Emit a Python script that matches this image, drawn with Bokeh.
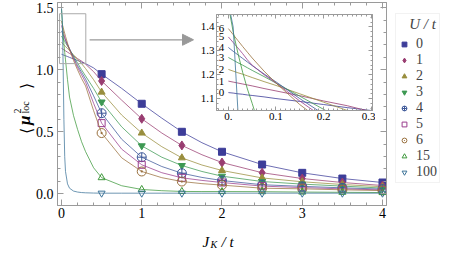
import math
from bokeh.plotting import figure
from bokeh.models import (Range1d, LinearAxis, SingleIntervalTicker, Legend, LegendItem,
                          Label, Arrow, NormalHead, CustomJSTickFormatter,
                          NumeralTickFormatter)
from bokeh.core.properties import value
from bokeh.embed import file_html
from bokeh.resources import INLINE

# ---------------- data ----------------
U_labels = ["0", "1", "2", "3", "4", "5", "6", "15", "100"]
J_line = [0, 0.01, 0.02, 0.03, 0.04, 0.05, 0.075, 0.1, 0.15, 0.2, 0.25, 0.3, 0.4, 0.5,
          0.75, 1, 1.25, 1.5, 1.75, 2, 2.5, 3, 3.5, 4]
J_marks = [0.5, 1, 1.5, 2, 2.5, 3, 3.5, 4]

mu_U0 = [1.125, 1.123, 1.120, 1.118, 1.115, 1.113, 1.107, 1.100, 1.088, 1.075, 1.062, 1.050,
         1.015, 0.965, 0.850, 0.726, 0.610, 0.500, 0.412, 0.339, 0.236, 0.169, 0.123, 0.091]
mu_U1 = [1.173, 1.169, 1.165, 1.161, 1.157, 1.153, 1.142, 1.132, 1.112, 1.090, 1.070, 1.045,
         0.985, 0.910, 0.755, 0.605, 0.490, 0.390, 0.315, 0.252, 0.170, 0.123, 0.091, 0.067]
mu_U2 = [1.222, 1.215, 1.208, 1.202, 1.195, 1.188, 1.171, 1.155, 1.120, 1.085, 1.050, 1.010,
         0.920, 0.820, 0.635, 0.490, 0.380, 0.290, 0.232, 0.188, 0.128, 0.097, 0.075, 0.057]
mu_U3 = [1.272, 1.261, 1.250, 1.240, 1.229, 1.218, 1.192, 1.165, 1.110, 1.055, 1.000, 0.950,
         0.850, 0.740, 0.540, 0.387, 0.295, 0.228, 0.180, 0.142, 0.099, 0.078, 0.062, 0.046]
mu_U4 = [1.314, 1.298, 1.283, 1.268, 1.253, 1.238, 1.203, 1.170, 1.100, 1.035, 0.980, 0.925,
         0.790, 0.650, 0.440, 0.295, 0.220, 0.166, 0.132, 0.107, 0.073, 0.060, 0.048, 0.038]
mu_U5 = [1.358, 1.335, 1.312, 1.288, 1.262, 1.240, 1.200, 1.165, 1.090, 1.020, 0.960, 0.900,
         0.730, 0.570, 0.360, 0.234, 0.170, 0.129, 0.108, 0.091, 0.062, 0.050, 0.040, 0.031]
mu_U6 = [1.393, 1.368, 1.343, 1.318, 1.294, 1.270, 1.215, 1.165, 1.075, 1.000, 0.930, 0.870,
         0.670, 0.490, 0.290, 0.180, 0.130, 0.099, 0.082, 0.070, 0.045, 0.040, 0.032, 0.026]
mu_U15 = [1.490, 1.380, 1.290, 1.210, 1.140, 1.080, 0.920, 0.780, 0.630, 0.520, 0.420, 0.340,
          0.210, 0.130, 0.065, 0.035, 0.025, 0.019, 0.018, 0.018, 0.017, 0.014, 0.012, 0.010]
mu_U100 = [1.500, 1.400, 1.050, 0.600, 0.300, 0.180, 0.080, 0.045, 0.022, 0.014, 0.010, 0.008,
           0.006, 0.005, 0.005, 0.005, 0.005, 0.005, 0.005, 0.005, 0.005, 0.005, 0.005, 0.005]

series = [mu_U0, mu_U1, mu_U2, mu_U3, mu_U4, mu_U5, mu_U6, mu_U15, mu_U100]

# ---------------- styles ----------------
colors = ["#3d3d99", "#993d71", "#998e3d", "#3d9953", "#3d5899", "#993d8d", "#99703d",
          "#3f993d", "#3d7499"]
markers = ["square", "diamond", "triangle", "inverted_triangle", "circle_cross", "square",
           "circle_dot", "triangle", "inverted_triangle"]
filled = [True, True, True, True, False, False, False, False, False]
msize = [7, 9, 7, 7, 9, 7, 9, 7, 7]

FONT = "Liberation Serif"
FRAME = "#9a9a9a"

ix0, ix1 = -0.025, 0.303
iy0, iy1 = 1.05, 1.452

# ---------------- main figure ----------------
p = figure(width=463, height=254, x_range=Range1d(-0.0498, 4.05),
           y_range=Range1d(-0.0944, 1.5427),
           output_backend="svg", toolbar_location=None,
           min_border_left=57, min_border_right=77, min_border_top=2, min_border_bottom=49)
p.grid.visible = False
p.outline_line_color = FRAME
p.background_fill_color = "white"
p.border_fill_color = "white"

xt = SingleIntervalTicker(interval=1, num_minor_ticks=5)
yt = SingleIntervalTicker(interval=0.5, num_minor_ticks=5)

def style_axis(ax, show_labels, size="14px", standoff=4, maj=6, mnr=3):
    ax.axis_line_color = FRAME
    ax.major_tick_line_color = FRAME
    ax.minor_tick_line_color = FRAME
    ax.major_tick_in = maj
    ax.major_tick_out = 0
    ax.minor_tick_in = mnr
    ax.minor_tick_out = 0
    ax.major_label_text_font = FONT
    ax.major_label_text_font_size = size
    ax.major_label_text_color = "black"
    ax.major_label_standoff = standoff
    if not show_labels:
        ax.formatter = CustomJSTickFormatter(code="return ''")
        ax.major_label_standoff = 0

p.xaxis.ticker = xt
p.yaxis.ticker = yt
p.yaxis.formatter = NumeralTickFormatter(format="0.0")
style_axis(p.xaxis[0], True, standoff=2)
style_axis(p.yaxis[0], True, standoff=4)
top_ax = LinearAxis(ticker=xt)
right_ax = LinearAxis(ticker=yt)
style_axis(top_ax, False)
style_axis(right_ax, False)
p.add_layout(top_ax, "above")
p.add_layout(right_ax, "right")

idx = [J_line.index(j) for j in J_marks]
for lab, ys, c, m, f, s in zip(U_labels, series, colors, markers, filled, msize):
    p.line(J_line, ys, line_color=c, line_width=1, line_alpha=0.75)
    p.scatter([J_line[i] for i in idx], [ys[i] for i in idx], marker=m, size=s,
              line_color=c, fill_color=c if f else None, line_width=1)

p.quad(left=ix0, right=ix1, bottom=iy0, top=iy1, fill_color=None, line_color="#aaaaaa",
       line_width=1)
p.add_layout(Arrow(x_start=0.35, y_start=1.242, x_end=1.645, y_end=1.242,
                   line_color="#999999", line_width=1.2,
                   end=NormalHead(size=11, fill_color="#999999", line_color="#999999")))

# ---------------- overlays (separate roots, absolutely placed) ----------------
def overlay(fw, fh, left, top):
    f = figure(frame_width=fw, frame_height=fh, x_range=Range1d(0, fw), y_range=Range1d(0, fh),
               output_backend="svg", toolbar_location=None,
               x_axis_location=None, y_axis_location=None, min_border=0)
    f.outline_line_color = None
    f.background_fill_color = None
    f.border_fill_color = None
    f.grid.visible = False
    f.styles = {"position": "absolute", "left": f"{left}px", "top": f"{top}px"}
    return f

def lab_(fig, text, x, y, size, style="normal", angle=0.0):
    fig.add_layout(Label(x=x, y=y, text=text, text_font=FONT, text_font_size=size,
                         text_font_style=style, text_color="black", angle=angle,
                         text_align="left", text_baseline="alphabetic"))

A = math.pi / 2
ylab = overlay(40, 85, 0, 60)            # page x 0..40, y 60..145
lab_(ylab, "\u27e8", 25.5, 12, "16px", angle=A)
lab_(ylab, "\u03bc", 23.5, 20.5, "17px", style="bold italic", angle=A)
lab_(ylab, "2", 17, 32, "10px", angle=A)
lab_(ylab, "loc", 25, 32, "10px", angle=A)
lab_(ylab, "\u27e9", 25.5, 57, "16px", angle=A)

xlab = overlay(80, 34, 185, 220)          # page x 185..265, y 220..254
lab_(xlab, "J", 17, 13, "15px", style="italic")
lab_(xlab, "K", 25, 10, "10px", style="italic")
lab_(xlab, "/ t", 36, 13, "15px", style="italic")

# legend overlay: hidden copies of the marker series supply the legend glyphs
leg = overlay(74, 182, 389, 7)
items = []
for lab, ys, c, m, f, s in zip(U_labels, series, colors, markers, filled, msize):
    r = leg.scatter([J_line[i] for i in idx], [ys[i] for i in idx], marker=m, size=s,
                    line_color=c, fill_color=c if f else None, line_width=1, visible=False)
    items.append(LegendItem(label=lab, renderers=[r]))
legend = Legend(items=items, location="top_left", title="\u00a0\u00a0\u00a0U / t",
                title_text_font=FONT, title_text_font_style="italic",
                title_text_font_size="15px", title_standoff=3,
                label_text_font=FONT, label_text_font_size="14px",
                glyph_width=12, glyph_height=12, label_height=12, label_width=20,
                label_standoff=6, spacing=-3, padding=2, margin=6,
                border_line_color="#e6e6e6", background_fill_color="white")
leg.add_layout(legend, "center")

# ---------------- inset figure ----------------
q = figure(frame_width=156, frame_height=96, x_range=Range1d(ix0, ix1),
           y_range=Range1d(iy0, iy1),
           output_backend="svg", toolbar_location=None,
           min_border_left=21, min_border_right=3, min_border_top=2, min_border_bottom=16)
q.grid.visible = False
q.outline_line_color = FRAME
q.background_fill_color = "white"
q.border_fill_color = "white"
qxt = SingleIntervalTicker(interval=0.1, num_minor_ticks=10)
qyt = SingleIntervalTicker(interval=0.1, num_minor_ticks=5)
q.xaxis.ticker = qxt
q.yaxis.ticker = qyt
q.xaxis.major_label_overrides = {0: "0."}
style_axis(q.xaxis[0], True, size="11px", standoff=2, maj=4, mnr=2)
style_axis(q.yaxis[0], True, size="11px", standoff=2, maj=4, mnr=2)
qt = LinearAxis(ticker=qxt)
qr = LinearAxis(ticker=qyt)
style_axis(qt, False, maj=4, mnr=2)
style_axis(qr, False, maj=4, mnr=2)
q.add_layout(qt, "above")
q.add_layout(qr, "right")

for ys, c in zip(series, colors):
    q.line(J_line, ys, line_color=c, line_width=1, line_alpha=0.8)

q.text(x=[0] * 7, y=[s[0] for s in series[:7]], text=U_labels[:7], x_offset=-7,
       text_font=value(FONT), text_font_size="11px", text_align="center",
       text_baseline="middle", text_color="black")
q.styles = {"position": "absolute", "left": "195px", "top": "12px"}

open("out.html", "w").write(file_html([p, ylab, xlab, leg, q], INLINE))
